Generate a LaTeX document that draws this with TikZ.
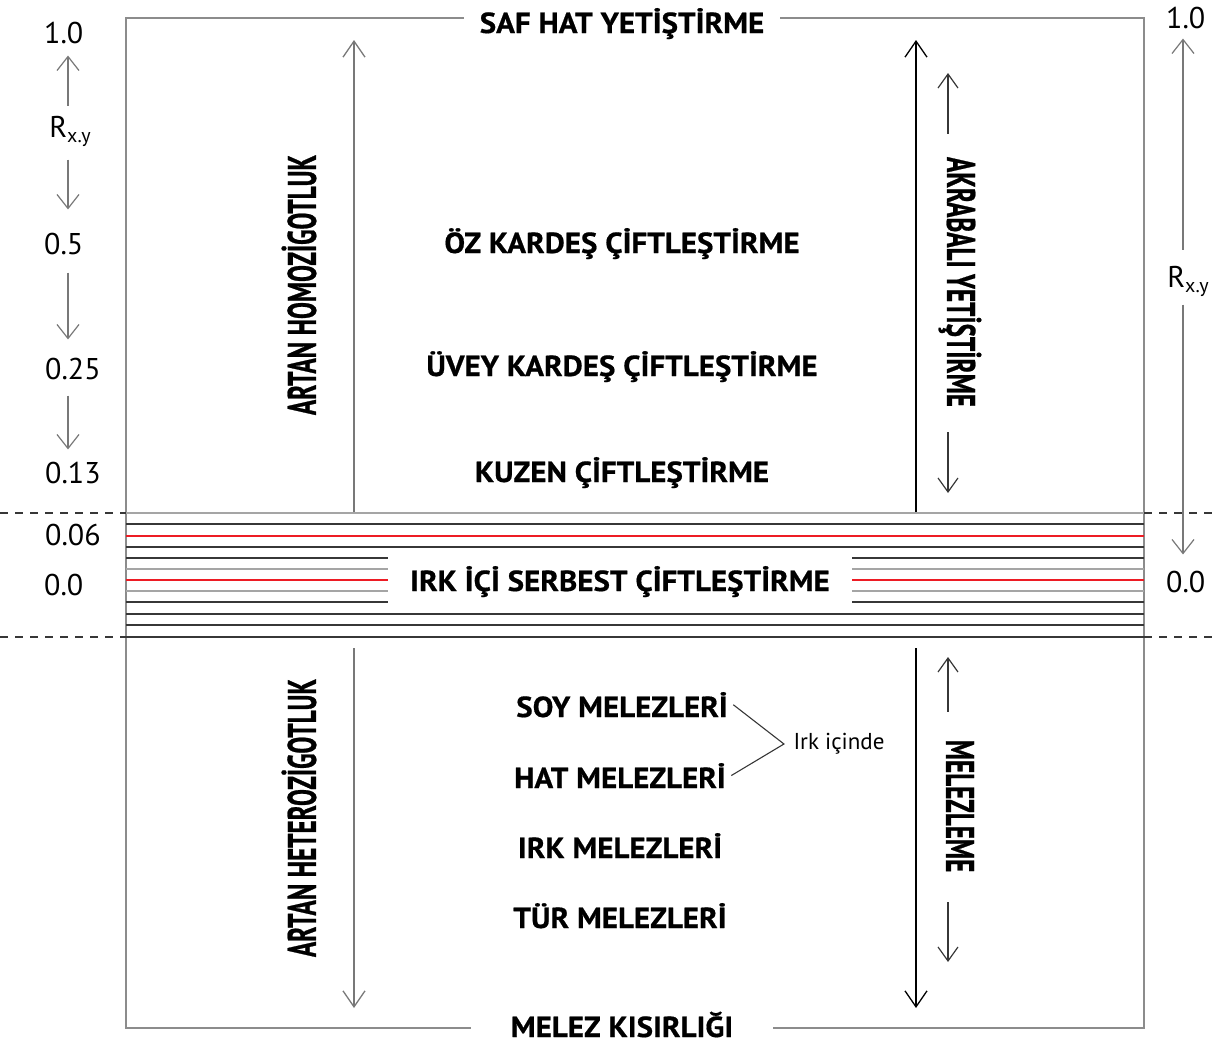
\documentclass[tikz,border=0pt]{standalone}
\usepackage{fontspec}
\setmainfont{PT Sans}
\newfontfamily\tallfont{PT Sans}[FakeStretch=0.63, FakeBold=0.6]
\newfontfamily\boxfont{PT Sans}[FakeStretch=1.07, FakeBold=0.6]
\usetikzlibrary{arrows.meta, positioning}
\definecolor{framegray}{RGB}{140,140,140}
\definecolor{linedark}{RGB}{55,55,55}
\definecolor{linegray}{RGB}{165,165,165}
\definecolor{bandred}{RGB}{237,28,36}
\definecolor{arrowgray}{RGB}{120,120,120}
\tikzset{
  frame/.style={draw=framegray, line width=1.5pt},
  title/.style={font=\boxfont\bfseries\fontsize{29}{31}\selectfont, anchor=base, inner xsep=16pt},
  mating/.style={font=\boxfont\bfseries\fontsize{29}{31}\selectfont, anchor=base},
  tall/.style={font=\tallfont\bfseries\fontsize{40}{42}\selectfont, inner sep=0pt},
  num/.style={font=\fontsize{30}{32}\selectfont, anchor=base west, inner sep=0pt},
  note/.style={font=\fontsize{23}{25}\selectfont},
  bigarrow/.style={-{Straight Barb[length=16pt, width=22pt]}, line width=1.3pt},
  smallarrow/.style={-{Straight Barb[length=14pt, width=20pt]}, line width=1.2pt, color=linedark},
  scalearrow/.style={-{Straight Barb[length=14pt, width=22pt]}, line width=1.2pt, color=arrowgray},
  dashline/.style={dash pattern=on 8pt off 7pt, line width=1.3pt, color=linedark},
  brace/.style={line width=1.1pt, color=linedark}
}
\newcommand{\rxy}{R\raisebox{-0.35ex}{\fontsize{20}{22}\selectfont x.y}}

\begin{document}
\begin{tikzpicture}[x=1pt, y=-1pt]
  \useasboundingbox (0,0) rectangle (1219,1044);

  % Ends of the frame
  \node[title] (saf) at (622,33) {SAF HAT YETİŞTİRME};
  \node[title, inner xsep=40pt] (kisir) at (622,1037) {MELEZ KISIRLIĞI};
  \coordinate (tl) at (126,18);
  \coordinate (tr) at (1144,18);
  \coordinate (bl) at (126,1028);
  \coordinate (br) at (1144,1028);
  \draw[frame] (saf.west |- tl) -- (tl) -- (bl) -- (kisir.west |- bl);
  \draw[frame] (kisir.east |- br) -- (br) -- (tr) -- (saf.east |- tr);

  % Mating systems
  \node[mating] (oz) at (622,253) {ÖZ KARDEŞ ÇİFTLEŞTİRME};
  \node[mating] (uvey) at (622,376) {ÜVEY KARDEŞ ÇİFTLEŞTİRME};
  \node[mating] (kuzen) at (622,482) {KUZEN ÇİFTLEŞTİRME};
  \node[mating, inner xsep=22pt] (irk) at (620,591) {IRK İÇİ SERBEST ÇİFTLEŞTİRME};
  \node[mating] (soy) at (622,717) {SOY MELEZLERİ};
  \node[mating] (hat) at (620,788) {HAT MELEZLERİ};
  \node[mating] (irkmel) at (620,858) {IRK MELEZLERİ};
  \node[mating] (tur) at (620,928) {TÜR MELEZLERİ};

  % Random mating band
  \foreach \y/\c in {513/linegray, 524/linedark, 536/bandred, 547/linedark,
                     614/linedark, 625/linedark, 637/linedark}
    \draw[\c, line width=1.5pt] (tl |- 0,\y) -- (tr |- 0,\y);
  \foreach \y/\c in {558/linedark, 569/linegray, 580/bandred, 591/linegray, 602/linedark} {
    \draw[\c, line width=1.5pt] (tl |- 0,\y) -- (irk.west |- 0,\y);
    \draw[\c, line width=1.5pt] (irk.east |- 0,\y) -- (tr |- 0,\y);
  }
  \draw[dashline] (0,513) -- (tl |- 0,513);
  \draw[dashline] (0,637) -- (tl |- 0,637);
  \draw[dashline] (tr |- 0,513) -- (1219,513);
  \draw[dashline] (tr |- 0,637) -- (1219,637);

  % Homozygosity / heterozygosity
  \node[tall, rotate=90] (homo) at (299,285) {ARTAN HOMOZİGOTLUK};
  \node[tall, rotate=90] (hetero) at (299,818) {ARTAN HETEROZİGOTLUK};
  \coordinate (homo-b) at (354,512);
  \coordinate (homo-t) at (354,40);
  \coordinate (hetero-t) at (354,648);
  \coordinate (hetero-b) at (354,1008);
  \draw[bigarrow, color=arrowgray] (homo-b) -- (homo-t);
  \draw[bigarrow, color=arrowgray] (hetero-t) -- (hetero-b);

  % Inbreeding / crossbreeding
  \node[tall, rotate=-90] (akra) at (960,282) {AKRABALI YETİŞTİRME};
  \node[tall, rotate=-90] (melez) at (960,806) {MELEZLEME};
  \coordinate (akra-b) at (916,512);
  \coordinate (akra-t) at (916,40);
  \coordinate (melez-t) at (916,648);
  \coordinate (melez-b) at (916,1008);
  \draw[bigarrow, color=black] (akra-b) -- (akra-t);
  \draw[bigarrow, color=black] (melez-t) -- (melez-b);
  \coordinate (inner) at (948,0);
  \coordinate (akra-up) at (948,73);
  \coordinate (akra-down) at (948,493);
  \coordinate (melez-up) at (948,657);
  \coordinate (melez-down) at (948,962);
  \draw[smallarrow, shorten <=23pt] (akra.west -| inner) -- (akra-up);
  \draw[smallarrow, shorten <=25pt] (akra.east -| inner) -- (akra-down);
  \draw[smallarrow, shorten <=28pt] (melez.west -| inner) -- (melez-up);
  \draw[smallarrow, shorten <=30pt] (melez.east -| inner) -- (melez-down);

  % Within-breed crosses
  \node[note] (ic) at (839,744) {Irk içinde};
  \draw[brace] ([xshift=2pt]soy.east) -- ([xshift=-6pt]ic.west) -- ([xshift=2pt]hat.east);

  % Left scale
  \coordinate (lscale) at (68,0);
  \node[num] (one) at (44,43) {1.0};
  \node[num, anchor=base] (rl) at (70,137) {\rxy};
  \node[num] (half) at (44,254) {0.5};
  \node[num] (quarter) at (45,379) {0.25};
  \node[num] (eighth) at (45,483) {0.13};
  \node[num] (sixteenth) at (45,545) {0.06};
  \node[num] (zero) at (44,595) {0.0};
  \draw[scalearrow, shorten <=10pt, shorten >=12pt] (rl.north -| lscale) -- (one.south -| lscale);
  \draw[scalearrow, shorten <=13pt, shorten >=23pt] (rl.south -| lscale) -- (half.north -| lscale);
  \draw[scalearrow, shorten <=18pt, shorten >=18pt] (half.south -| lscale) -- (quarter.north -| lscale);
  \draw[scalearrow, shorten <=16pt, shorten >=12pt] (quarter.south -| lscale) -- (eighth.north -| lscale);

  % Right scale
  \coordinate (rscale) at (1183,0);
  \node[num] (rone) at (1166,28) {1.0};
  \node[num, anchor=base] (rr) at (1188,287) {\rxy};
  \node[num] (rzero) at (1166,592) {0.0};
  \draw[scalearrow, shorten <=16pt, shorten >=10pt] (rr.north -| rscale) -- (rone.south -| rscale);
  \draw[scalearrow, shorten <=8pt, shorten >=16pt] (rr.south -| rscale) -- (rzero.north -| rscale);
\end{tikzpicture}
\end{document}
